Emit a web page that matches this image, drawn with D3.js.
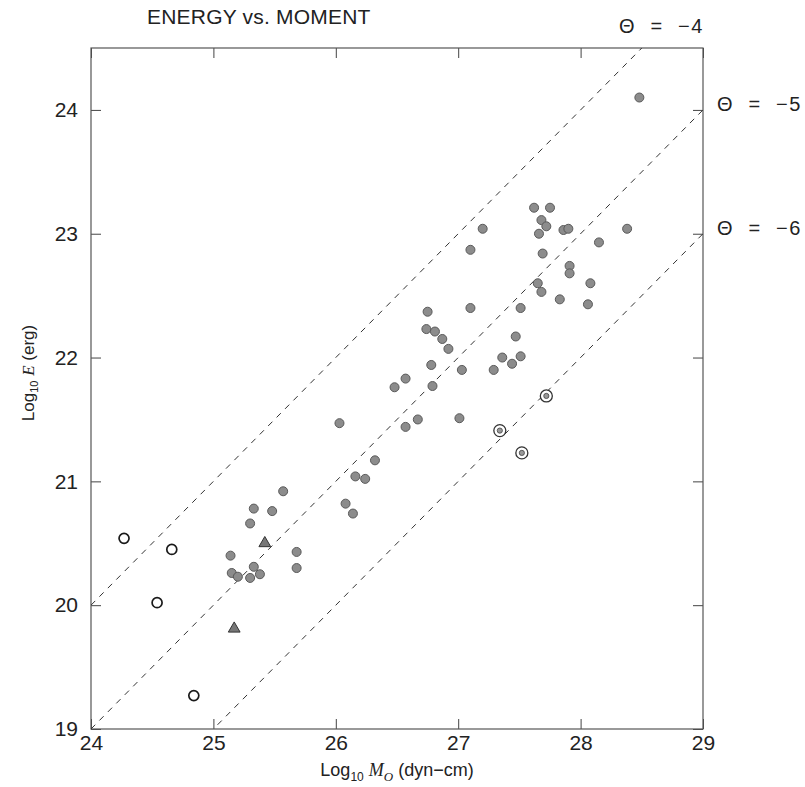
<!DOCTYPE html>
<html>
<head>
<meta charset="utf-8">
<script src="https://cdn.jsdelivr.net/npm/d3@7"></script>
<style>
  body { margin: 0; background: #fff; }
  text { font-family: "Liberation Sans", Arial, sans-serif; fill: #222; }
</style>
</head>
<body>
<div id="wrapper"></div>
<script>
// values: [log10 M0, log10 E]
const filledPoints = [
  [25.14, 20.40], [25.15, 20.26], [25.20, 20.23], [25.30, 20.22], [25.33, 20.31],
  [25.38, 20.25], [25.30, 20.66], [25.33, 20.78], [25.48, 20.76], [25.57, 20.92],
  [25.68, 20.43], [25.68, 20.30],
  [26.03, 21.47], [26.08, 20.82], [26.14, 20.74], [26.16, 21.04], [26.24, 21.02],
  [26.32, 21.17], [26.48, 21.76], [26.57, 21.83], [26.57, 21.44], [26.67, 21.50],
  [26.75, 22.37], [26.74, 22.23], [26.81, 22.21], [26.87, 22.15], [26.92, 22.07],
  [26.78, 21.94], [26.79, 21.77], [27.01, 21.51], [27.03, 21.90], [27.10, 22.40],
  [27.10, 22.87], [27.20, 23.04], [27.29, 21.90], [27.36, 22.00], [27.44, 21.95],
  [27.47, 22.17], [27.51, 22.01], [27.51, 22.40], [27.65, 22.60], [27.68, 22.53],
  [27.62, 23.21], [27.66, 23.00], [27.68, 23.11], [27.69, 22.84], [27.72, 23.06],
  [27.75, 23.21], [27.83, 22.47], [27.86, 23.03], [27.90, 23.04], [27.91, 22.74],
  [27.91, 22.68], [28.06, 22.43], [28.08, 22.60], [28.15, 22.93], [28.38, 23.04],
  [28.48, 24.10]
];
const openPoints = [[24.27, 20.54], [24.66, 20.45], [24.54, 20.02], [24.84, 19.27]];
const trianglePoints = [[25.42, 20.50], [25.17, 19.81]];
const circledPoints = [[27.34, 21.41], [27.52, 21.23], [27.72, 21.69]];

const thetas = [-4, -5, -6];
const xTicks = [24, 25, 26, 27, 28, 29];
const yTicks = [19, 20, 21, 22, 23, 24];

const dimensions = {
  width: 805,
  height: 787,
  margin: { top: 48, right: 102, bottom: 58, left: 91 },
};
dimensions.boundedWidth =
  dimensions.width - dimensions.margin.left - dimensions.margin.right;
dimensions.boundedHeight =
  dimensions.height - dimensions.margin.top - dimensions.margin.bottom;

const wrapper = d3
  .select("#wrapper")
  .append("svg")
  .attr("width", dimensions.width)
  .attr("height", dimensions.height);

const bounds = wrapper
  .append("g")
  .attr("transform", `translate(${dimensions.margin.left},${dimensions.margin.top})`);

const xScale = d3.scaleLinear().domain([24, 29]).range([0, dimensions.boundedWidth]);
const yScale = d3.scaleLinear().domain([19, 24.5]).range([dimensions.boundedHeight, 0]);

bounds
  .append("clipPath")
  .attr("id", "plot-clip")
  .append("rect")
  .attr("width", dimensions.boundedWidth)
  .attr("height", dimensions.boundedHeight);

// axes with inward ticks
const tickLen = 10;
const fmt = d3.format("d");

const xAxis = bounds
  .append("g")
  .attr("transform", `translate(0,${dimensions.boundedHeight})`)
  .call(d3.axisBottom(xScale).tickValues(xTicks).tickFormat(fmt).tickSize(-tickLen).tickPadding(6));
const xAxisTop = bounds
  .append("g")
  .call(d3.axisTop(xScale).tickValues(xTicks).tickFormat("").tickSize(-tickLen));
const yAxis = bounds
  .append("g")
  .call(d3.axisLeft(yScale).tickValues(yTicks).tickFormat(fmt).tickSize(-tickLen).tickPadding(13));
const yAxisRight = bounds
  .append("g")
  .attr("transform", `translate(${dimensions.boundedWidth},0)`)
  .call(d3.axisRight(yScale).tickValues(yTicks).tickFormat("").tickSize(-tickLen));

[xAxis, xAxisTop, yAxis, yAxisRight].forEach((a) => {
  a.select(".domain").remove();
  a.selectAll(".tick line").attr("stroke", "#444").attr("stroke-width", 1);
  a.selectAll(".tick text")
    .attr("fill", "#222")
    .style("font-size", "21px")
    .style("font-family", '"Liberation Sans", Arial, sans-serif');
});

bounds
  .append("rect")
  .attr("width", dimensions.boundedWidth)
  .attr("height", dimensions.boundedHeight)
  .attr("fill", "none")
  .attr("stroke", "#555")
  .attr("stroke-width", 1.2);

// constant Theta lines: log E = log M0 + Theta
const lineGenerator = d3
  .line()
  .x((d) => xScale(d[0]))
  .y((d) => yScale(d[1]));

bounds
  .append("g")
  .attr("clip-path", "url(#plot-clip)")
  .selectAll("path")
  .data(thetas)
  .join("path")
  .attr("d", (t) => lineGenerator([[24, 24 + t], [29, 29 + t]]))
  .attr("fill", "none")
  .attr("stroke", "#333")
  .attr("stroke-width", 1)
  .attr("stroke-dasharray", "6,6");

// markers
bounds
  .append("g")
  .selectAll("circle")
  .data(filledPoints)
  .join("circle")
  .attr("cx", (d) => xScale(d[0]))
  .attr("cy", (d) => yScale(d[1]))
  .attr("r", 4.5)
  .attr("fill", "#8c8c8c")
  .attr("stroke", "#5a5a5a")
  .attr("stroke-width", 1);

bounds
  .append("g")
  .selectAll("circle")
  .data(openPoints)
  .join("circle")
  .attr("cx", (d) => xScale(d[0]))
  .attr("cy", (d) => yScale(d[1]))
  .attr("r", 5)
  .attr("fill", "#fff")
  .attr("stroke", "#1a1a1a")
  .attr("stroke-width", 1.7);

bounds
  .append("g")
  .selectAll("path")
  .data(trianglePoints)
  .join("path")
  .attr("transform", (d) => `translate(${xScale(d[0])},${yScale(d[1])})`)
  .attr("d", d3.symbol(d3.symbolTriangle, 60))
  .attr("fill", "#777")
  .attr("stroke", "#333")
  .attr("stroke-width", 1);

const circled = bounds
  .append("g")
  .selectAll("g")
  .data(circledPoints)
  .join("g")
  .attr("transform", (d) => `translate(${xScale(d[0])},${yScale(d[1])})`);
circled
  .append("circle")
  .attr("r", 6)
  .attr("fill", "#fff")
  .attr("stroke", "#333")
  .attr("stroke-width", 1.3);
circled
  .append("circle")
  .attr("r", 2.6)
  .attr("fill", "#999")
  .attr("stroke", "#444")
  .attr("stroke-width", 0.8);

// labels
wrapper
  .append("text")
  .attr("x", 147)
  .attr("y", 24)
  .style("font-size", "21px")
  .style("letter-spacing", "0.2px")
  .text("ENERGY vs. MOMENT");

const thetaLabels = [
  { t: "Θ  =  −4", x: 619, y: 33 },
  { t: "Θ  =  −5", x: 717, y: 111 },
  { t: "Θ  =  −6", x: 717, y: 235 },
];
wrapper
  .append("g")
  .selectAll("text")
  .data(thetaLabels)
  .join("text")
  .attr("x", (d) => d.x)
  .attr("y", (d) => d.y)
  .attr("xml:space", "preserve")
  .style("white-space", "pre")
  .style("font-size", "20px")
  .style("letter-spacing", "1.6px")
  .text((d) => d.t);

const xTitle = wrapper
  .append("text")
  .attr("x", 397)
  .attr("y", 776)
  .attr("text-anchor", "middle")
  .style("font-size", "18px");
xTitle.append("tspan").text("Log");
xTitle.append("tspan").attr("dy", 5).style("font-size", "12px").text("10");
xTitle.append("tspan").attr("dy", -5).text(" ");
xTitle
  .append("tspan")
  .style("font-family", '"Liberation Serif", serif')
  .style("font-style", "italic")
  .text("M");
xTitle
  .append("tspan")
  .attr("dy", 5)
  .style("font-family", '"Liberation Serif", serif')
  .style("font-style", "italic")
  .style("font-size", "13px")
  .text("O");
xTitle.append("tspan").attr("dy", -5).text(" (dyn−cm)");

const yTitle = wrapper
  .append("text")
  .attr("transform", "translate(34,373) rotate(-90)")
  .attr("text-anchor", "middle")
  .style("font-size", "17px");
yTitle.append("tspan").text("Log");
yTitle.append("tspan").attr("dy", 4).style("font-size", "11px").text("10");
yTitle.append("tspan").attr("dy", -4).text(" ");
yTitle
  .append("tspan")
  .style("font-family", '"Liberation Serif", serif')
  .style("font-style", "italic")
  .text("E");
yTitle.append("tspan").text(" (erg)");
</script>
</body>
</html>
